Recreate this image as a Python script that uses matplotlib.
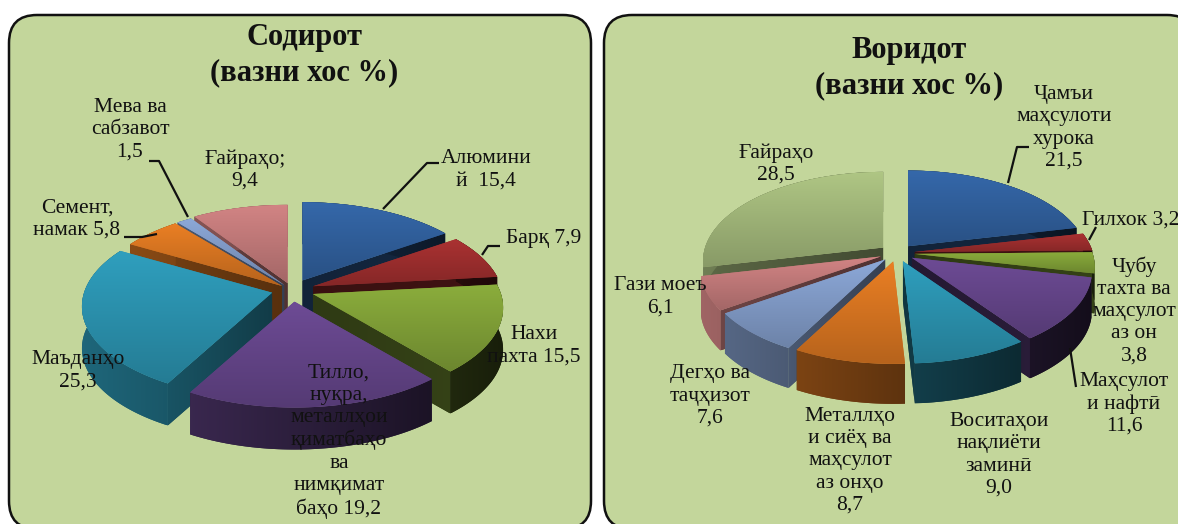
"""Two exploded 3D-style pies: export and import shares."""
import numpy as np
import matplotlib
matplotlib.use("Agg")
import matplotlib.pyplot as plt
from matplotlib.patches import FancyBboxPatch, Polygon

plt.rcParams["font.family"] = ["Liberation Serif", "DejaVu Serif"]

# export pie
exp_labels = ["Алюмини\nй  15,4", "Барқ 7,9", "Нахи\nпахта 15,5",
              "Тилло,\nнуқра,\nметаллҳои\nқиматбаҳо\nва\nнимқимат\nбаҳо 19,2",
              "Маъданҳо\n25,3", "Семент,\nнамак 5,8", "Мева ва\nсабзавот\n1,5",
              "Ғайраҳо;\n9,4"]
exp_values = [15.4, 7.9, 15.5, 19.2, 25.3, 5.8, 1.5, 9.4]

# import pie
imp_labels = ["Ҷамъи\nмаҳсулоти\nхурока\n21,5", "Гилхок 3,2",
              "Чубу\nтахта ва\nмаҳсулот\nаз он\n3,8", "Маҳсулот\nи нафтӣ\n11,6",
              "Воситаҳои\nнақлиёти\nзаминӣ\n9,0",
              "Металлҳо\nи сиёҳ ва\nмаҳсулот\nаз онҳо\n8,7",
              "Дегҳо ва\nтаҷҳизот\n7,6", "Гази моеъ\n6,1", "Ғайраҳо\n28,5"]
imp_values = [21.5, 3.2, 3.8, 11.6, 9.0, 8.7, 7.6, 6.1, 28.5]

# label anchors in image pixels
exp_pos = [(486, 170), (544, 239), (534, 346), (339, 441), (78, 371), (77, 219),
           (130, 130), (245, 170)]
imp_pos = [(1064, 128), (1131, 220), (1134, 311), (1124, 404), (999, 455),
           (850, 461), (710, 396), (660, 297), (776, 164)]

exp_leaders = [[(439, 163), (427, 163), (383, 209)],
               [(500, 246), (488, 246), (482, 255)],
               [(124, 237), (142, 237), (157, 234)],
               [(149, 161), (159, 161), (188, 217)]]
imp_leaders = [[(1029, 147), (1017, 147), (1008, 183)],
               [(1096, 227), (1089, 240)],
               [(1076, 387), (1070, 348)]]

PALETTE = ["#3568aa", "#ab3232", "#8bad3c", "#6d4b95", "#2f9fbe", "#ea7f24",
           "#8ca8d8", "#d28484", "#afc684"]
BOTTOM = 0.78     # top face gets darker towards the front
PERSP = 0.15

fig = plt.figure(figsize=(11.78, 5.24), dpi=100)
ax = fig.add_axes([0, 0, 1, 1])
ax.set_xlim(0, 1178)
ax.set_ylim(524, 0)
ax.axis("off")

z = [2]


def rgb(c):
    return np.array(matplotlib.colors.to_rgb(c))


def face(pts, c0, c1, vertical=True):
    # polygon filled with a linear gradient, via a clipped image
    z[0] += 1
    pts = np.asarray(pts)
    x0, y0 = pts.min(axis=0)
    x1, y1 = pts.max(axis=0)
    t = np.linspace(0, 1, 64)[:, None]
    grad = (1 - t) * c0 + t * c1
    img = grad[:, None, :] if vertical else grad[None, :, :]
    poly = Polygon(pts, closed=True, fc=(c0 + c1) / 2, ec="none", zorder=z[0])
    ax.add_patch(poly)
    im = ax.imshow(img, extent=(x0, x1, y1, y0), aspect="auto",
                   interpolation="bilinear", zorder=z[0] + 0.5)
    im.set_clip_path(poly)
    z[0] += 1


def pie3d(values, cx, cy, rx, ry, depth, explode):
    edges = np.cumsum([0] + list(values)) / sum(values) * 2 * np.pi
    angles = np.pi / 2 - edges  # clockwise from the top
    mids = (angles[:-1] + angles[1:]) / 2
    order = np.argsort(-np.sin(mids))

    def proj(u, v):
        s = 1 / (1 + PERSP * v)
        return rx * u * s, -ry * v * s

    for i in order:
        a0, a1 = angles[i], angles[i + 1]
        base = rgb(PALETTE[i])
        ax0 = cx + explode[i] * rx * np.cos(mids[i])
        ay0 = cy - explode[i] * ry * np.sin(mids[i])
        th = np.linspace(a0, a1, 80)
        dx, dy = proj(np.cos(th), np.sin(th))
        arc = np.column_stack([ax0 + dx, ay0 + dy])
        down = np.array([0, depth])
        apex = np.array([ax0, ay0])

        # cut walls that face the viewer
        wall = base * 0.42
        if np.cos(a0) < -0.01:
            face([apex, arc[0], arc[0] + down, apex + down], wall * 1.25, wall * 0.9, False)
        if np.cos(a1) > 0.01:
            face([apex, arc[-1], arc[-1] + down, apex + down], wall * 0.8, wall * 0.9, False)
        # outer wall, lit from the left
        left = 0.62 + 0.12 * (i == 7)
        l = (arc[:, 0].min() - cx + rx) / (2 * rx)
        r = (arc[:, 0].max() - cx + rx) / (2 * rx)
        c0 = base * (left - 0.42 * l)
        c1 = base * (left - 0.42 * r)
        face(np.vstack([arc, arc[::-1] + down]), c0, c1, False)
        # top
        face(np.vstack([apex, arc]), base, base * BOTTOM)


def panel(x0, x1):
    r = 28
    ax.add_patch(FancyBboxPatch((x0 + r, 15 + r), x1 - x0 - 2 * r, 529 - 15 - 2 * r,
                                boxstyle=f"round,pad={r},rounding_size={r}",
                                fc="#c3d69b", ec="#111111", lw=1.8, zorder=1,
                                clip_on=True))


panel(9, 591)
panel(604, 1195)

pie3d(exp_values, 292, 290, 188, 90, 42,
      [0.12, 0.12, 0.12, 0.13, 0.11, 0.07, 0.07, 0.08])
pie3d(imp_values, 897, 253, 178, 87, 40, [0.1] * 9)

LABEL = dict(ha="center", va="center", fontsize=15.5, color="#111111",
             linespacing=1.22, zorder=100)
TITLE = dict(ha="center", va="center", fontsize=22, fontweight="bold",
             color="#111111", linespacing=1.3, zorder=100)
ax.text(304, 55, "Содирот\n(вазни хос %)", **TITLE)
ax.text(909, 68, "Воридот\n(вазни хос %)", **TITLE)

for labels, pos in [(exp_labels, exp_pos), (imp_labels, imp_pos)]:
    for t, (x, y) in zip(labels, pos):
        ax.text(x, y, t, **LABEL)

for path in exp_leaders + imp_leaders:
    xs, ys = zip(*path)
    ax.plot(xs, ys, color="#111111", lw=1.6, zorder=99, solid_capstyle="butt")

ax.set_xlim(0, 1178)
ax.set_ylim(524, 0)
fig.savefig("out.png", dpi=100)
